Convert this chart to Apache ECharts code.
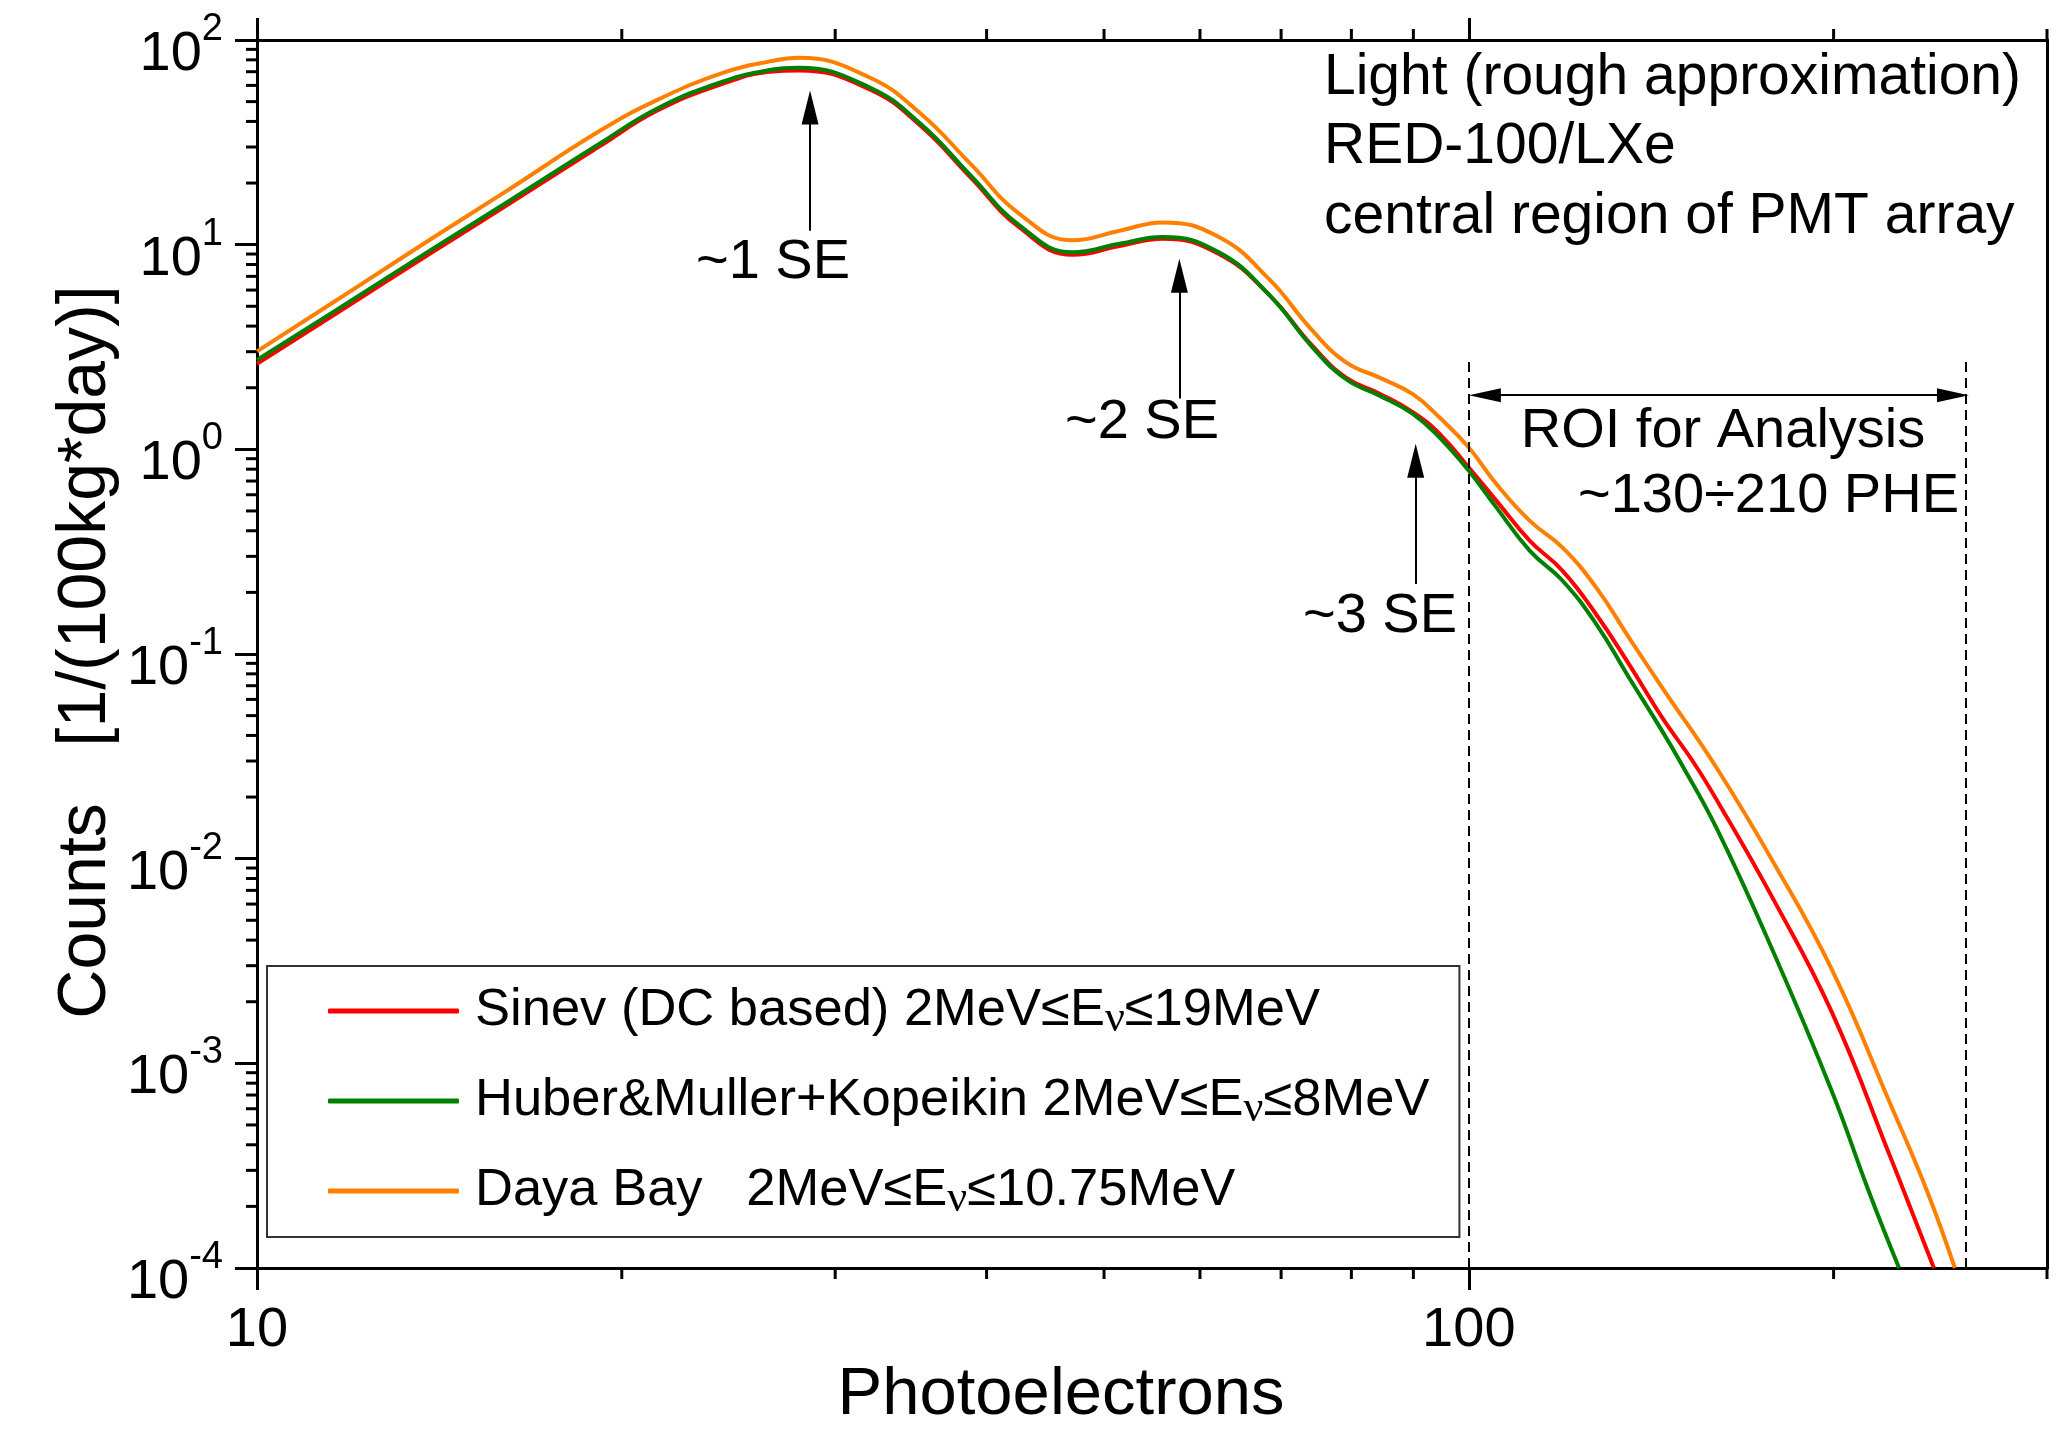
<!DOCTYPE html>
<html lang="en">
<head>
<meta charset="UTF-8">
<title>RED-100 light spectrum</title>
<style>
  html, body { margin: 0; padding: 0; background: #fff; }
  #chart { width: 2066px; height: 1440px; }
</style>
</head>
<body>
<div id="chart"></div>
<script src="https://cdn.jsdelivr.net/npm/echarts@6/dist/echarts.min.js"></script>
<script>
// photoelectrons, shared by the body of the three curves
var pe = [10, 12, 14, 16, 19.2, 21.4, 24.3, 26.5, 28.0, 32.0, 35.3, 38.8, 42.6, 47.1, 51.5, 55.9, 62.2, 68.4,
          74.3, 79.2, 84.4, 89.9, 94.6, 100, 105.4, 112.3, 119.5, 127.4, 135.6, 144.4];

// counts [1/(100kg*day)]
var sinev = [2.62, 5.2, 9.3, 15.3, 30.4, 45.2, 61.5, 70.0, 71.0, 57.5, 38.0, 21.3, 12.1, 8.93, 9.85, 10.7, 9.0, 5.7,
             3.2, 2.24, 1.87, 1.52, 1.19, 0.815, 0.56, 0.357, 0.255, 0.156, 0.089, 0.0489];
var huber = [2.73, 5.40, 9.64, 15.8, 31.3, 46.3, 63.0, 71.3, 73.1, 58.8, 38.9, 21.8, 12.4, 9.17, 10.1, 10.9, 9.17, 5.7,
             3.15, 2.20, 1.83, 1.49, 1.14, 0.785, 0.519, 0.319, 0.228, 0.140, 0.0766, 0.042];
var dayaBay = [3.01, 6.03, 10.9, 18.0, 36.1, 51.0, 69.5, 78.6, 81.8, 65.8, 43.6, 24.8, 14.1, 10.5, 11.7, 12.85, 10.9, 6.80,
               3.80, 2.66, 2.24, 1.86, 1.43, 1.02, 0.676, 0.447, 0.331, 0.211, 0.120, 0.0685];

// tails, each curve leaves the plot at its own point
var sinevTailPe = [153, 160.3, 178.7, 199.4, 222.5, 242];
var sinevTail = [0.030, 0.0192, 0.0062, 0.00177, 3.55e-4, 1.0e-4];
var huberTailPe = [149.3, 160.3, 178.7, 199.4, 214, 226.5];
var huberTail = [0.030, 0.0139, 0.00341, 7.26e-4, 2.34e-4, 1.0e-4];
var dayaTailPe = [160.3, 178.7, 199.4, 222.5, 239.1, 251.8];
var dayaTail = [0.0275, 0.00942, 0.00286, 6.44e-4, 2.34e-4, 1.0e-4];

var seriesNames = ['Sinev', 'Huber', 'Daya Bay'];
var legendText = {
    'Sinev': '{g| }Sinev (DC based) 2MeV\u2264E{sub|\u03bd}\u226419MeV',
    'Huber': '{g| }Huber&Muller+Kopeikin 2MeV\u2264E{sub|\u03bd}\u22648MeV',
    'Daya Bay': '{g| }Daya Bay   2MeV\u2264E{sub|\u03bd}\u226410.75MeV'
};

// annotation positions in data units (arrow heads sit centred on the end point)
var roiRange = [100, 257];
var roiArrowEnds = [103.1, 250.9];
var seArrows = [[28.6, 11.7, 46.8], [57.7, 1.77, 7.05], [90.4, 0.22, 0.879]];
var roiArrowY = 1.84;
var roiLineTop = 2.71;

var xMajor = [10, 100];
var yMajor = [1e-4, 1e-3, 1e-2, 1e-1, 1, 10, 100];
var xMinor = [20, 30, 40, 50, 60, 70, 80, 90, 200, 300];
var yMinor = [];
for (var e = -4; e < 2; e++) {
    for (var k = 2; k <= 9; k++) yMinor.push(k * Math.pow(10, e));
}

var FONT = 'Liberation Sans, Arial, sans-serif';

function pairs(xs, ys) {
    var out = [];
    for (var i = 0; i < xs.length; i++) out.push([xs[i], ys[i]]);
    return out;
}

var chart = echarts.init(document.getElementById('chart'));

function curve(name, color, body, tailPe, tail) {
    return {
        name: name,
        type: 'line',
        xAxisIndex: 0,
        yAxisIndex: 0,
        data: pairs(pe, body).concat(pairs(tailPe, tail)),
        smooth: 0.45,
        symbol: 'none',
        showSymbol: false,
        lineStyle: { color: color, width: 4 },
        itemStyle: { color: color }
    };
}

var markData = [];
seArrows.forEach(function (a) {
    markData.push([{ coord: [a[0], a[1]], symbol: 'none' },
                   { coord: [a[0], a[2]], symbol: 'triangle', symbolSize: [17, 34] }]);
});
markData.push([{ coord: [roiArrowEnds[0], roiArrowY], symbol: 'triangle', symbolSize: [14, 32] },
               { coord: [roiArrowEnds[1], roiArrowY], symbol: 'triangle', symbolSize: [14, 32] }]);
roiRange.forEach(function (x) {
    markData.push([{ coord: [x, 1e-4], symbol: 'none', lineStyle: { type: [10, 6], width: 2 } },
                   { coord: [x, roiLineTop], symbol: 'none' }]);
});

function xAxisDef(pos, labels) {
    return {
        type: 'log', logBase: 10, min: 10, max: 300, position: pos,
        axisLine: { show: true, lineStyle: { color: '#000', width: 3 } },
        axisTick: { show: true, inside: false, length: 22, customValues: xMajor,
                    lineStyle: { color: '#000', width: 3 } },
        axisLabel: { show: labels, margin: 35, customValues: xMajor,
                     fontFamily: FONT, fontSize: 56, color: '#000' },
        splitLine: { show: false }
    };
}

var option = {
    animation: false,
    backgroundColor: '#fff',
    grid: { left: 257, right: 19, top: 40, bottom: 172, containLabel: false, outerBoundsMode: 'none' },
    legend: {
        data: seriesNames,
        orient: 'vertical',
        left: 267,
        top: 966,
        padding: [15, 30, 16, 61],
        borderColor: '#333',
        borderWidth: 2,
        icon: 'roundRect',
        itemWidth: 131,
        itemHeight: 5,
        itemGap: 30,
        selectedMode: false,
        formatter: function (name) { return legendText[name]; },
        textStyle: {
            fontFamily: FONT,
            fontSize: 52.5,
            color: '#000',
            lineHeight: 60,
            rich: {
                g: { width: 11 },
                sub: { fontFamily: 'Liberation Serif, DejaVu Serif, serif', fontSize: 44, lineHeight: 26, verticalAlign: 'bottom' }
            }
        }
    },
    xAxis: [xAxisDef('bottom', true), xAxisDef('top', false)],
    yAxis: [{
        type: 'log', logBase: 10, min: 1e-4, max: 100, position: 'left', splitNumber: 6,
        axisLine: { show: true, lineStyle: { color: '#000', width: 3 } },
        axisTick: { show: true, inside: false, length: 22, customValues: yMajor,
                    lineStyle: { color: '#000', width: 3 } },
        axisLabel: {
            show: true, margin: 34, padding: [13, 0, 0, 0], customValues: yMajor,
            formatter: function (v) {
                var p = Math.round(Math.log(v) / Math.LN10);
                return '{b|10}{s|' + p + '}';
            },
            rich: {
                b: { fontFamily: FONT, fontSize: 56, lineHeight: 72, verticalAlign: 'bottom', color: '#000' },
                s: { fontFamily: FONT, fontSize: 38, lineHeight: 34, verticalAlign: 'top', color: '#000' }
            }
        },
        splitLine: { show: false }
    }, {
        type: 'log', logBase: 10, min: 1e-4, max: 100, position: 'right',
        axisLine: { show: true, lineStyle: { color: '#000', width: 3 } },
        axisTick: { show: false },
        axisLabel: { show: false },
        splitLine: { show: false }
    }],
    series: [
        curve('Sinev', '#ff0000', sinev, sinevTailPe, sinevTail),
        curve('Huber', '#008000', huber, huberTailPe, huberTail),
        curve('Daya Bay', '#ff8000', dayaBay, dayaTailPe, dayaTail),
        {
            name: 'annotations',
            type: 'line',
            data: [],
            silent: true,
            markLine: {
                silent: true,
                animation: false,
                label: { show: false },
                lineStyle: { color: '#000', width: 2, type: 'solid' },
                emphasis: { disabled: true },
                data: markData
            }
        }
    ]
};

chart.setOption(option);

// minor ticks at 2..9 of every decade, placed through the axes' own scales
function px(v) { return chart.convertToPixel({ xAxisIndex: 0 }, v); }
function py(v) { return chart.convertToPixel({ yAxisIndex: 0 }, v); }

var xl = px(10), yb = py(1e-4), yt = py(100);
var elements = [];
var tickStyle = { stroke: '#000', lineWidth: 3 };
xMinor.forEach(function (v) {
    var x = px(v);
    elements.push({ type: 'line', silent: true, shape: { x1: x, y1: yb, x2: x, y2: yb + 11 }, style: tickStyle });
    elements.push({ type: 'line', silent: true, shape: { x1: x, y1: yt, x2: x, y2: yt - 11 }, style: tickStyle });
});
yMinor.forEach(function (v) {
    var y = py(v);
    elements.push({ type: 'line', silent: true, shape: { x1: xl, y1: y, x2: xl - 11, y2: y }, style: tickStyle });
});

function label(text, x, y, size, align, rot) {
    return {
        type: 'text', silent: true, x: x, y: y, rotation: rot || 0,
        style: {
            text: text, font: size + 'px ' + FONT, fill: '#000',
            align: align, verticalAlign: 'middle',
            textAlign: align, textVerticalAlign: 'middle'
        }
    };
}

elements.push(label('~1 SE', 773, 263, 56, 'center'));
elements.push(label('~2 SE', 1142, 423, 56, 'center'));
elements.push(label('~3 SE', 1380, 617, 56, 'center'));
elements.push(label('ROI for Analysis', 1723, 432, 56, 'center'));
elements.push(label('~130\u00f7210 PHE', 1959, 497, 56, 'right'));
elements.push(label('Light (rough approximation)', 1324, 78, 57, 'left'));
elements.push(label('RED-100/LXe', 1324, 147, 57, 'left'));
elements.push(label('central region of PMT array', 1324, 217, 57, 'left'));
elements.push(label('Photoelectrons', 1061, 1396, 67, 'center'));
elements.push(label('Counts   [1/(100kg*day)]', 86, 652, 68, 'center', Math.PI / 2));

chart.setOption({ graphic: elements });
</script>
</body>
</html>
